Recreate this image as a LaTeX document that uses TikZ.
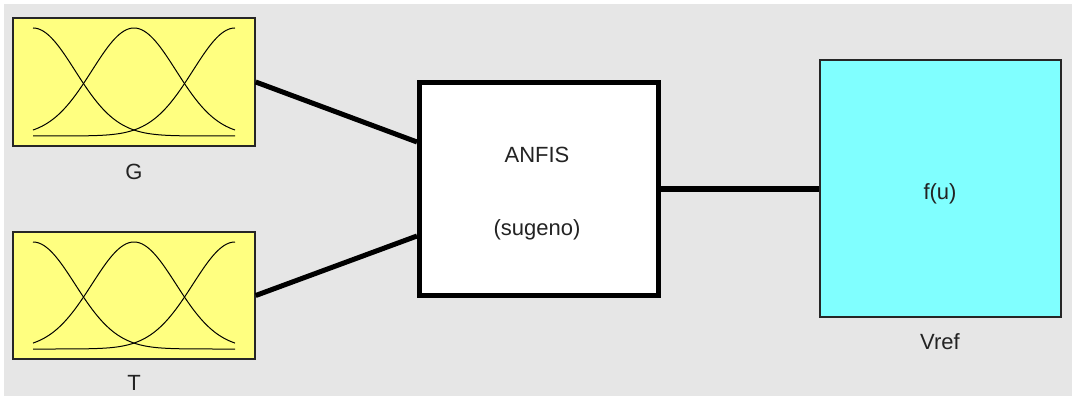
\documentclass[tikz,border=0pt]{standalone}
\usepackage{fontspec}
\setmainfont{Liberation Sans}
\definecolor{bg}{RGB}{230,230,230}
\definecolor{mfyellow}{RGB}{255,255,128}
\definecolor{outcyan}{RGB}{128,255,255}
\definecolor{txt}{RGB}{35,35,35}
\tikzset{
  mfbox/.style={draw=black!85, line width=1.5pt, fill=mfyellow, minimum width=242pt, minimum height=128pt, inner sep=0pt},
  fisbox/.style={draw=black, line width=5pt, fill=white, minimum width=239pt, minimum height=213pt, inner sep=0pt},
  outbox/.style={draw=black!85, line width=1.5pt, fill=outcyan, minimum width=241pt, minimum height=257pt, inner sep=0pt},
  lbl/.style={text=txt, font=\fontsize{22}{25}\selectfont, inner sep=0pt},
  wire/.style={line width=5pt, black},
  mf/.style={line width=1pt, black}
}
\begin{document}
\begin{tikzpicture}[x=1pt, y=-1pt]
\useasboundingbox (0,0) rectangle (1072,396);
\fill[white] (0,0) rectangle (1072,396);
\fill[bg] (4,4) rectangle (1072,396);

\node[mfbox] (G) at (134,82) {};
\node[mfbox, minimum height=127pt] (T) at (134,295.5) {};
\node[fisbox] (A) at (539,189) {};
\node[outbox] (V) at (940.5,188.5) {};

\foreach \b/\h in {G/54, T/53.5}{
  \begin{scope}[shift={(\b.center)}]
    \foreach \c in {-101, 0, 101}{
      \draw[mf] plot[domain=-101:101, samples=90, smooth]
        (\x, {\h-2*\h*exp(-0.5*((\x-\c)/42)^2)});
    }
  \end{scope}
}

\node[lbl] (Gl) at (134,172) {G};
\node[lbl] (Tl) at (134,383) {T};
\node[lbl] (A1) at (537,155) {ANFIS};
\node[lbl] (A2) at (537,230) {(sugeno)};
\node[lbl] (Vf) at (940,194) {f(u)};
\node[lbl] (Vl) at (940,342) {Vref};

\draw[wire] (G.east) -- ([yshift=47pt]A.west);
\draw[wire] (T.east) -- ([yshift=-47pt]A.west);
\draw[wire, line width=6pt] (A.east) -- (A.east -| V.west);
\end{tikzpicture}
\end{document}
